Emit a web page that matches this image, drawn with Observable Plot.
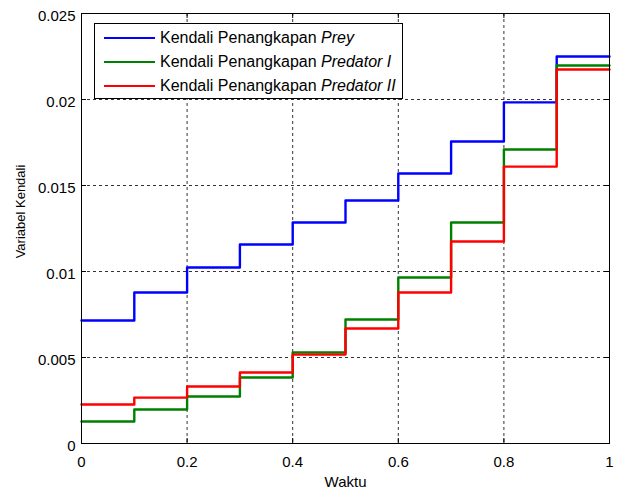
<!DOCTYPE html>
<html>
<head>
<meta charset="utf-8">
<script src="https://cdn.jsdelivr.net/npm/d3@7"></script>
<script src="https://cdn.jsdelivr.net/npm/@observablehq/plot@0.6"></script>
<style>
  body { margin: 0; background: white; }
  #wrap { position: relative; width: 617px; height: 490px; font-family: "Liberation Sans", Arial, sans-serif; }
  #legend { position: absolute; left: 94px; top: 23px; width: 309px; height: 76px; border: 1px solid #000; background: #fff; box-sizing: border-box; }
  .row { position: absolute; left: 0; height: 20px; display: flex; align-items: center; font-size: 16px; color: #000; white-space: nowrap; }
  .sw { display: inline-block; width: 51px; height: 2.4px; margin-left: 9px; margin-right: 5px; }
</style>
</head>
<body>
<div id="wrap"></div>
<script>
// ---- data ----
const times = [0, 0.1, 0.2, 0.3, 0.4, 0.5, 0.6, 0.7, 0.8, 0.9];
const tEnd = 1;
const prey      = [0.00715, 0.00878, 0.01023, 0.01157, 0.01285, 0.01413, 0.0157, 0.01756, 0.01983, 0.0225];
const predator1 = [0.00128, 0.00198, 0.00273, 0.00384, 0.00529, 0.00721, 0.00965, 0.01285, 0.01709, 0.02198];
const predator2 = [0.00227, 0.00267, 0.00331, 0.00413, 0.00517, 0.00669, 0.00878, 0.01174, 0.0161, 0.02174];
const seriesNames = ["Kendali Penangkapan Prey", "Kendali Penangkapan Predator I", "Kendali Penangkapan Predator II"];
const seriesColors = ["#0000ff", "#008000", "#ff0000"];
const xTicks = [0, 0.2, 0.4, 0.6, 0.8, 1];
const xTickLabels = ["0", "0.2", "0.4", "0.6", "0.8", "1"];
const yTicks = [0, 0.005, 0.01, 0.015, 0.02, 0.025];
const yTickLabels = ["0", "0.005", "0.01", "0.015", "0.02", "0.025"];
const xLabel = "Waktu";
const yLabel = "Variabel Kendali";

// build step table
const allSeries = [prey, predator1, predator2];
const rows = [];
allSeries.forEach((vals, si) => {
  times.forEach((t, i) => rows.push({s: seriesNames[si], t, v: vals[i]}));
  rows.push({s: seriesNames[si], t: tEnd, v: vals[vals.length - 1]});
});

const W = 617, H = 490;
const mL = 81, mR = 8, mT = 13, mB = 47;
const pw = W - mL - mR, ph = H - mT - mB;
const tickLen = 5;

const chart = Plot.plot({
  width: W, height: H,
  marginLeft: mL, marginRight: mR, marginTop: mT, marginBottom: mB,
  style: {fontFamily: "'Liberation Sans', Arial, sans-serif", fontSize: "15px", color: "#000", background: "#fff", overflow: "visible"},
  x: {domain: [0, 1]},
  y: {domain: [0, 0.025]},
  color: {domain: seriesNames, range: seriesColors},
  marks: [
    // grid
    Plot.ruleX(xTicks, {stroke: "#333", strokeDasharray: "3,3", strokeWidth: 1}),
    Plot.ruleY(yTicks, {stroke: "#333", strokeDasharray: "3,3", strokeWidth: 1}),
    // series
    Plot.line(rows, {x: "t", y: "v", z: "s", stroke: "s", curve: "step-after", strokeWidth: 2.4}),
    // frame
    Plot.frame({stroke: "#000", strokeWidth: 1}),
    // inward ticks
    Plot.tickX(xTicks, {x: d => d, insetTop: ph - tickLen, stroke: "#000"}),
    Plot.tickX(xTicks, {x: d => d, insetBottom: ph - tickLen, stroke: "#000"}),
    Plot.tickY(yTicks, {y: d => d, insetRight: pw - tickLen, stroke: "#000"}),
    Plot.tickY(yTicks, {y: d => d, insetLeft: pw - tickLen, stroke: "#000"}),
    // axes (labels only)
    Plot.axisX(xTicks, {tickSize: 0, tickPadding: 13, tickFormat: (d, i) => xTickLabels[i], label: null, fontSize: 15}),
    Plot.axisY(yTicks, {tickSize: 0, tickPadding: 6, dy: 3, tickFormat: (d, i) => yTickLabels[i], label: null, fontSize: 15}),
    // axis titles
    Plot.text([xLabel], {frameAnchor: "bottom", dy: 43, text: d => d, fontSize: 15}),
    Plot.text([yLabel], {frameAnchor: "left", textAnchor: "middle", dx: -61, dy: -17, rotate: -90, text: d => d, fontSize: 13})
  ]
});

const wrap = document.getElementById("wrap");
wrap.appendChild(chart);

// legend
const legend = document.createElement("div");
legend.id = "legend";
const labelParts = [["Kendali Penangkapan ", "Prey"], ["Kendali Penangkapan ", "Predator I"], ["Kendali Penangkapan ", "Predator II"]];
const rowTops = [4, 28, 52];
seriesNames.forEach((n, i) => {
  const r = document.createElement("div");
  r.className = "row";
  r.style.top = rowTops[i] + "px";
  const sw = document.createElement("span");
  sw.className = "sw";
  sw.style.background = seriesColors[i];
  r.appendChild(sw);
  const t = document.createElement("span");
  t.textContent = labelParts[i][0];
  t.style.whiteSpace = "pre";
  r.appendChild(t);
  const it = document.createElement("i");
  it.textContent = labelParts[i][1];
  r.appendChild(it);
  legend.appendChild(r);
});
wrap.appendChild(legend);
</script>
</body>
</html>
